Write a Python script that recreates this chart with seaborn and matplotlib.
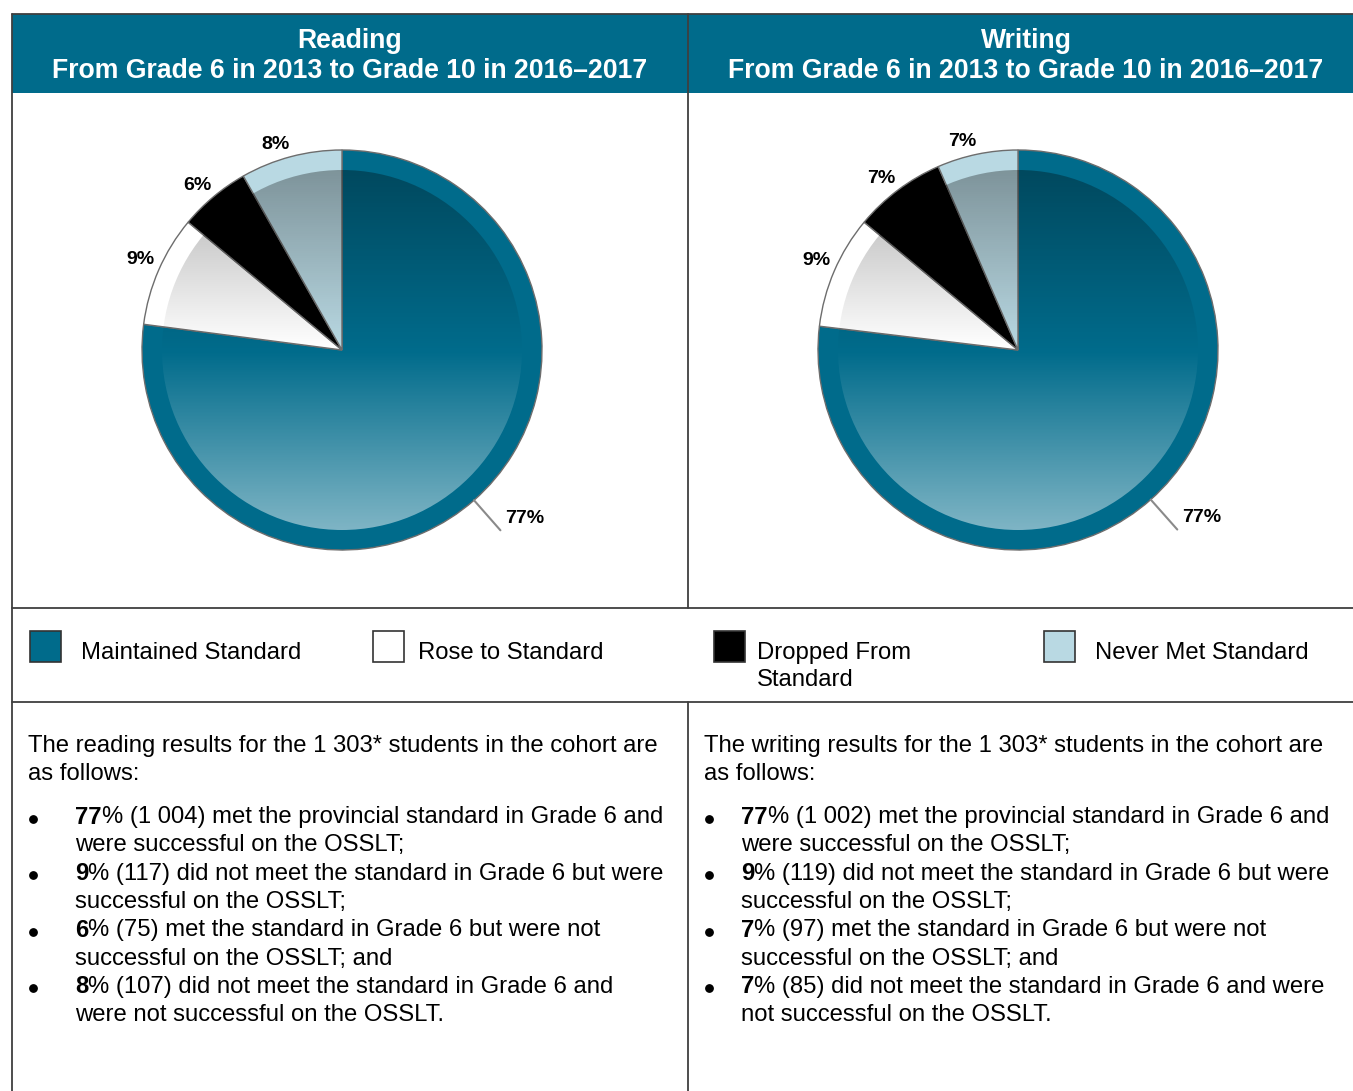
import matplotlib
matplotlib.use("Agg")
import matplotlib.pyplot as plt
from matplotlib.patches import Rectangle, Circle
import numpy as np
import seaborn as sns

# data
categories = ["Maintained Standard", "Rose to Standard", "Dropped From\nStandard", "Never Met Standard"]
reading_counts = [1004, 117, 75, 107]
writing_counts = [1002, 119, 97, 85]
reading_pct = [77, 9, 6, 8]
writing_pct = [77, 9, 7, 7]
cohort_size = "1 303*"
titles = ["Reading", "Writing"]
subtitle = "From Grade 6 in 2013 to Grade 10 in 2016\u20132017"
reading_lines = [
    ("met the provincial standard in Grade 6 and", "were successful on the OSSLT;"),
    ("did not meet the standard in Grade 6 but were", "successful on the OSSLT;"),
    ("met the standard in Grade 6 but were not", "successful on the OSSLT; and"),
    ("did not meet the standard in Grade 6 and", "were not successful on the OSSLT."),
]
writing_lines = [
    ("met the provincial standard in Grade 6 and", "were successful on the OSSLT;"),
    ("did not meet the standard in Grade 6 but were", "successful on the OSSLT;"),
    ("met the standard in Grade 6 but were not", "successful on the OSSLT; and"),
    ("did not meet the standard in Grade 6 and were", "not successful on the OSSLT."),
]

sns.set_theme(style="white")
plt.rcParams['font.family'] = ['Liberation Sans', 'DejaVu Sans']
plt.rcParams['text.color'] = 'black'
colors = sns.color_palette(["#006B8B", "#FFFFFF", "#000000", "#B9D9E3"])
teal = colors[0]
line_col = "#3f3f3f"
fs = 17.2

W, H = 1353, 1091
fig = plt.figure(figsize=(W / 100, H / 100), dpi=100)
bg = fig.add_axes([0, 0, 1, 1])
bg.set_xlim(0, W)
bg.set_ylim(H, 0)
bg.axis("off")

# table frame
bg.add_patch(Rectangle((12, 14), W - 12, 79, facecolor=teal, edgecolor="none"))
bg.plot([12, W], [14, 14], color=line_col, lw=1.3)
bg.plot([12, 12], [14, H], color=line_col, lw=1.3)
bg.plot([12, W], [608, 608], color=line_col, lw=1.3)
bg.plot([12, W], [702, 702], color=line_col, lw=1.3)
bg.plot([688, 688], [14, 608], color=line_col, lw=1.3)
bg.plot([688, 688], [702, H], color=line_col, lw=1.3)

for cx, t in zip([350, 1026], titles):
    bg.text(cx, 41, t, color="white", fontsize=19.2, fontweight="bold", ha="center", va="center")
    bg.text(cx, 71, subtitle, color="white", fontsize=19.2, fontweight="bold", ha="center", va="center")

# vertical gradient laid over the inner disc of each pie
n = 256
t = np.linspace(0, 1, n)
grad = np.zeros((n, 1, 4))
top = t < 0.5
grad[top, 0, :3] = 0
grad[top, 0, 3] = 0.32 * (1 - 2 * t[top])
grad[~top, 0, :3] = 1
grad[~top, 0, 3] = 0.5 * (2 * t[~top] - 1)


def draw_pie(cx, cy, counts, pct):
    ax = fig.add_axes([(cx - 260) / W, 1 - (cy + 260) / H, 520 / W, 520 / H])
    wedges, _ = ax.pie(counts, colors=colors, startangle=90, counterclock=False,
                       wedgeprops=dict(edgecolor="#6d6d6d", linewidth=1))
    im = ax.imshow(grad, extent=(-0.9, 0.9, -0.9, 0.9), aspect="auto", zorder=3,
                   interpolation="bilinear")
    im.set_clip_path(Circle((0, 0), 0.9, transform=ax.transData))
    for i, w in enumerate(wedges):
        ang = np.deg2rad((w.theta1 + w.theta2) / 2)
        if i == 0:
            x0, y0 = np.cos(ang), np.sin(ang)
            x1, y1 = 1.2 * np.cos(ang), 1.2 * np.sin(ang)
            ax.plot([x0, x1], [y0, y1], color="#8a8a8a", lw=1.5, zorder=4)
            ax.text(x1 + 0.025, y1 + 0.06, f"{pct[i]}%", fontsize=14, fontweight="bold",
                    ha="left", va="center")
        else:
            ax.text(1.02 * np.cos(ang), 1.02 * np.sin(ang), f"{pct[i]}%", fontsize=14,
                    fontweight="bold", ha="right", va="bottom")
    ax.set_xlim(-1.3, 1.3)
    ax.set_ylim(-1.3, 1.3)
    ax.axis("off")


draw_pie(342, 350, reading_counts, reading_pct)
draw_pie(1018, 350, writing_counts, writing_pct)

# legend row
for bx, tx, c, lab in zip([30, 373, 714, 1044], [81, 418, 757, 1095], colors, categories):
    bg.add_patch(Rectangle((bx, 631), 31, 31, facecolor=c, edgecolor="#333333", lw=1.2))
    for k, part in enumerate(lab.split("\n")):
        bg.text(tx, 653 + 27 * k, part, fontsize=fs, ha="left", va="center")


# text under the pies
def draw_text(x0, indent, subject, counts, pct, lines):
    bg.text(x0, 746, f"The {subject} results for the {cohort_size} students in the cohort are",
            fontsize=fs, ha="left", va="center")
    bg.text(x0, 774, "as follows:", fontsize=fs, ha="left", va="center")
    y = 817
    for c, p, (l1, l2) in zip(counts, pct, lines):
        bg.plot(x0 + 5, y + 1.5, "o", ms=5.3, color="black")
        b = bg.text(x0 + indent, y, str(p), fontsize=fs, fontweight="bold", ha="left", va="center")
        cnt = f"{c:,}".replace(",", " ")
        bg.annotate(f"% ({cnt}) {l1}", xy=(1, 0.5), xycoords=b, fontsize=fs,
                    ha="left", va="center")
        bg.text(x0 + indent, y + 28.3, l2, fontsize=fs, ha="left", va="center")
        y += 56.6


draw_text(28, 47, "reading", reading_counts, reading_pct, reading_lines)
draw_text(704, 37, "writing", writing_counts, writing_pct, writing_lines)

plt.savefig("out.png", dpi=100)
